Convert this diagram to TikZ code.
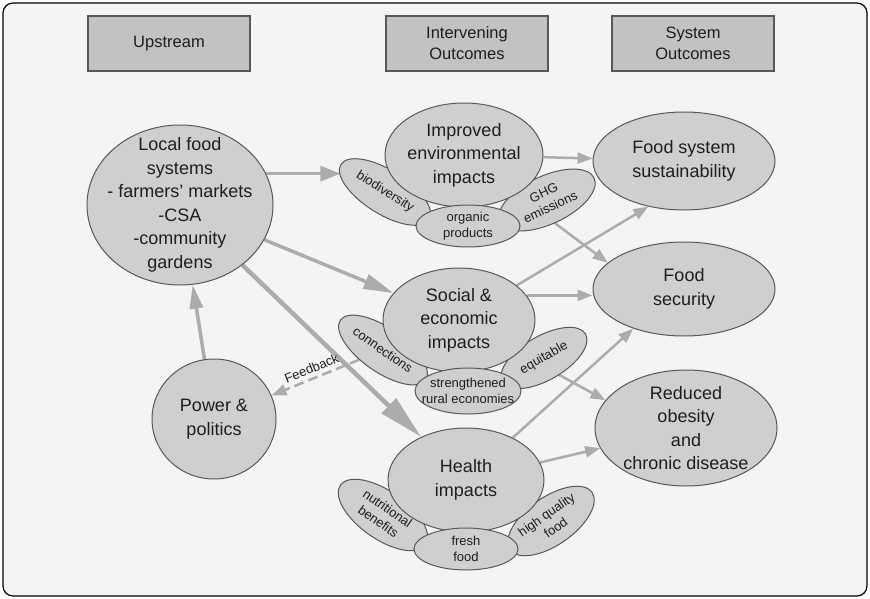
\documentclass[tikz,border=0pt]{standalone}
\usepackage{fontspec}
\setmainfont{Liberation Sans}
\usetikzlibrary{shapes.geometric}
\usetikzlibrary{arrows.meta}
\definecolor{bggray}{RGB}{244,244,244}
\definecolor{bubgray}{RGB}{207,207,207}
\definecolor{hdrgray}{RGB}{194,194,194}
\definecolor{linegray}{RGB}{88,88,88}
\definecolor{arrowgray}{RGB}{172,172,172}
\definecolor{txtgray}{RGB}{30,30,30}
\pgfdeclarelayer{edges}
\pgfsetlayers{edges,main}
\tikzset{bub/.style={ellipse,draw=linegray,fill=bubgray,line width=1pt,inner sep=0pt,text=txtgray},
	hdr/.style={rectangle,draw=linegray,fill=hdrgray,line width=1.2pt,minimum width=162,minimum height=55,
		align=center,text=txtgray,font=\fontsize{16.5}{21}\selectfont},
	big/.style={align=center,inner sep=0pt,text=txtgray,font=\fontsize{18}{23.5}\selectfont},
	small/.style={align=center,inner sep=0pt,text=txtgray,font=\fontsize{13}{16}\selectfont},
	arr/.style={draw=arrowgray,line width=2.5pt,-{Triangle[length=15pt,width=11pt]}}}

\begin{document}
\begin{tikzpicture}[x=1pt,y=-1pt]
	\useasboundingbox (0,0) rectangle (870,599);
	\begin{pgfonlayer}{edges}
		\draw[black,line width=1.2pt,fill=bggray,rounded corners=10pt] (3,3) rectangle (867,596);
	\end{pgfonlayer}
	% column heads
	\node[hdr] (up) at (169,43.5) {Upstream};
	\node[hdr] (mid) at (467,43.5) {Intervening\\Outcomes};
	\node[hdr] (sys) at (693,43.5) {System\\Outcomes};
	% upstream
	\node[bub,minimum width=186,minimum height=160,
		label={[big]center:Local food\\systems\\- farmers’ markets\\-CSA\\-community\\gardens}] (local) at (180,205) {};
	\node[bub,minimum width=124,minimum height=120,label={[big]center:Power \&\\politics}] (power) at (214,419) {};
	% environmental
	\node[bub,small,rotate=-32,minimum width=104,minimum height=44] (bio) at (385,192) {biodiversity};
	\node[bub,small,rotate=25,minimum width=104,minimum height=48] (ghg) at (547,200) {GHG\\emissions};
	\node[bub,minimum width=158,minimum height=104,
		label={[big]center:Improved\\environmental\\impacts}] (env) at (464,155) {};
	\node[bub,minimum width=104,minimum height=42,label={[small]center:organic\\products}] (organic) at (468,226) {};
	% social
	\node[bub,small,rotate=-35,minimum width=104,minimum height=44] (conn) at (383,350) {connections};
	\node[bub,small,rotate=30,minimum width=96,minimum height=44] (equit) at (544,358) {equitable};
	\node[bub,minimum width=152,minimum height=104,
		label={[big]center:Social \&\\economic\\impacts}] (social) at (459,320) {};
	\node[bub,minimum width=106,minimum height=46,label={[small]center:strengthened\\rural economies}] (rural) at (468,391) {};
	% health
	\node[bub,small,rotate=-35,minimum width=104,minimum height=48] (nutr) at (383,515) {nutritional\\benefits};
	\node[bub,small,rotate=35,minimum width=100,minimum height=48] (quality) at (551,521) {high quality\\food};
	\node[bub,minimum width=156,minimum height=104,label={[big]center:Health\\impacts}] (health) at (466,480) {};
	\node[bub,minimum width=104,minimum height=42,label={[small]center:fresh\\food}] (fresh) at (466,549) {};
	% system outcomes
	\node[bub,minimum width=182,minimum height=98,label={[big]center:Food system\\sustainability}] (sustain) at (684,161) {};
	\node[bub,minimum width=182,minimum height=94,label={[big]center:Food\\security}] (secur) at (684,289) {};
	\node[bub,minimum width=182,minimum height=116,
		label={[big]center:Reduced\\obesity\\and\\chronic disease}] (obes) at (686,428) {};
	\begin{pgfonlayer}{edges}
		\path[arr,line width=3pt,-{Triangle[length=20pt,width=15pt]}] (local.20) -- (local.20 -| bio.west);
		\path[arr,line width=3.5pt,-{Triangle[length=30pt,width=15pt]}] (local) -- (social);
		\path[arr,line width=4.5pt,-{Triangle[length=45pt,width=20pt]}] (local) -- (health);
		\path[arr,line width=3.5pt,-{Triangle[length=24pt,width=13pt]}] (power) -- (local);
		\path[arr,dash pattern=on 10pt off 5pt] (conn) -- node[small,sloped,above=4pt] {Feedback} (power);
		\path[arr] (env) -- (sustain);
		\path[arr] (env) -- (secur.161);
		\path[arr] (social) -- (sustain.232);
		\path[arr] (social.20) -- (social.20 -| secur.west);
		\path[arr] (social) -- (obes.161);
		\path[arr] (health) -- (secur.218);
		\path[arr] (health) -- (obes);
	\end{pgfonlayer}
\end{tikzpicture}
\end{document}
